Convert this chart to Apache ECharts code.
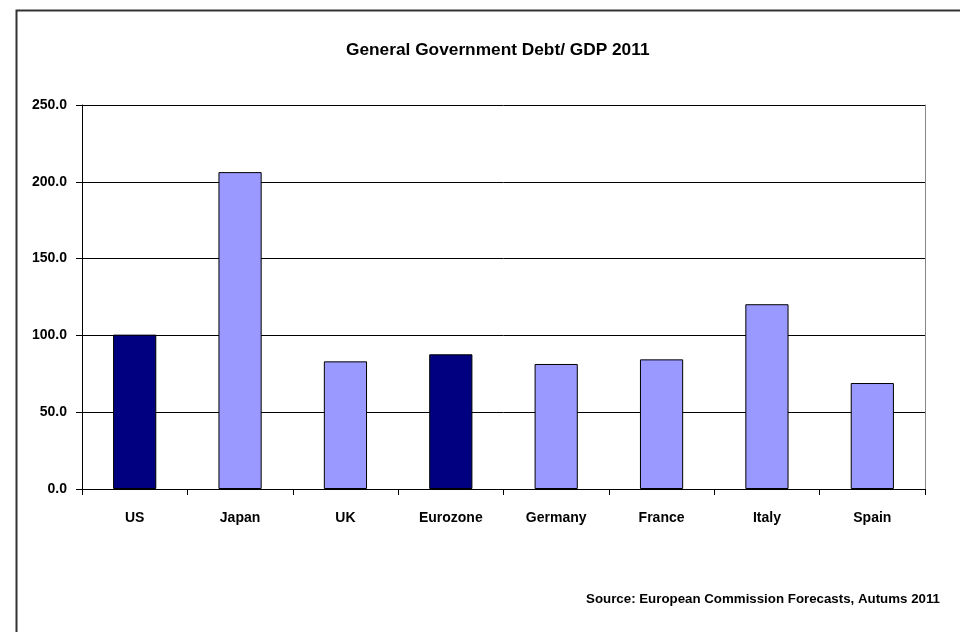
<!DOCTYPE html>
<html>
<head>
<meta charset="utf-8">
<script src="https://cdn.jsdelivr.net/npm/echarts@6/dist/echarts.min.js"></script>
<style>html,body{margin:0;padding:0;background:#fff}#c{width:960px;height:632px}</style>
</head>
<body>
<div id="c"></div>
<script>
var categories = ["US", "Japan", "UK", "Eurozone", "Germany", "France", "Italy", "Spain"];
var debtValues = [100.5, 206.3, 83.1, 87.7, 81.4, 84.4, 120.3, 69.0];
var aggregates = ["US", "Eurozone"];
var yTicks = [0, 50, 100, 150, 200, 250];
var titleText = "General Government Debt/ GDP 2011";
var sourceText = "Source: European Commission Forecasts, Autums 2011";

var FONT = "'Liberation Sans', Arial, sans-serif";
var chart = echarts.init(document.getElementById('c'), null, {renderer: 'canvas'});
chart.setOption({
  animation: false,
  backgroundColor: '#fff',
  title: {
    text: titleText, left: 341, top: 37,
    textStyle: {fontFamily: FONT, fontWeight: 'bold', fontSize: 17.3, color: '#000'}
  },
  graphic: [
    {type: 'rect', left: 14, top: 8, shape: {width: 980, height: 700}, style: {fill: null, stroke: '#333', lineWidth: 2}, silent: true},
    {type: 'text', right: 20, top: 593, style: {text: sourceText, font: "bold 13.3px 'Liberation Sans', Arial, sans-serif", fill: '#000'}}
  ],
  grid: {left: 82, right: 35, top: 105, bottom: 143, containLabel: false},
  xAxis: {
    type: 'category', data: categories, boundaryGap: true,
    axisLine: {lineStyle: {color: '#000', width: 1}},
    axisTick: {show: true, alignWithLabel: false, length: 6, lineStyle: {color: '#000'}},
    axisLabel: {fontFamily: FONT, fontWeight: 'bold', fontSize: 14, color: '#000', margin: 22}
  },
  yAxis: [{
    type: 'value', min: yTicks[0], max: yTicks[yTicks.length - 1], interval: 50,
    axisLine: {show: true, lineStyle: {color: '#000', width: 1}},
    axisTick: {show: true, length: 6, lineStyle: {color: '#000'}},
    axisLabel: {fontFamily: FONT, fontWeight: 'bold', fontSize: 14, color: '#000', margin: 15,
      formatter: function (v) { return v.toFixed(1); }},
    splitLine: {show: true, lineStyle: {color: '#000', width: 1}}
  }, {
    type: 'value', position: 'right', min: 0, max: 250, interval: 50,
    axisLine: {show: true, lineStyle: {color: '#888', width: 1}},
    axisTick: {show: false}, axisLabel: {show: false}, splitLine: {show: false}
  }],
  series: [{
    type: 'bar', yAxisIndex: 0,
    barWidth: '41%',
    data: debtValues.map(function (v, i) {
      var agg = aggregates.indexOf(categories[i]) >= 0;
      return {value: v, itemStyle: {color: agg ? '#000080' : '#9999FF', borderColor: '#000', borderWidth: 1}};
    })
  }]
});
</script>
</body>
</html>
